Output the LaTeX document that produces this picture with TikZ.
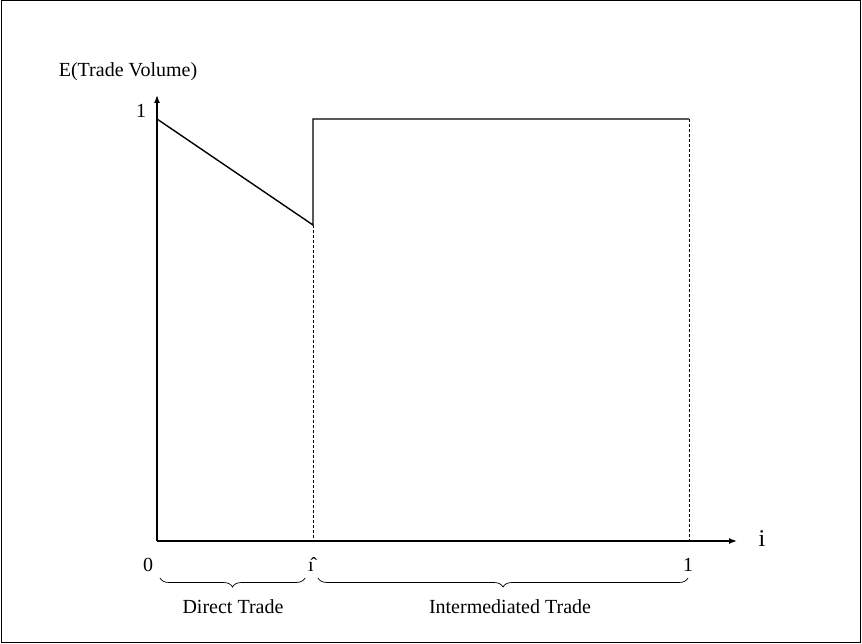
\documentclass[tikz,border=0pt]{standalone}
\usepackage{fontspec}
\setmainfont{Liberation Serif}
\usetikzlibrary{arrows.meta,decorations.pathreplacing}
\begin{document}
\begin{tikzpicture}[x=1pt,y=-1pt,
  lbl/.style={font=\fontsize{20}{24}\selectfont, inner sep=0pt},
  axis/.style={line width=1.4pt, -{Latex[length=8pt,width=6pt]}},
  graph/.style={line width=1.4pt},
  guide/.style={line width=0.9pt, dash pattern=on 3pt off 2pt},
  brc/.style={line width=0.7pt, decorate, decoration={brace, mirror, amplitude=9pt}}]
\useasboundingbox (0,0) rectangle (862,644);
\draw[line width=1pt] (1,1) rectangle (860,642);
\coordinate (O) at (157,541);
\coordinate (Ytip) at (157,95);
\coordinate (Xtip) at (737,541);
\coordinate (A) at (157,119);
\coordinate (B) at (313,225);
\coordinate (C) at (313,119);
\coordinate (D) at (689,119);
\coordinate (Bb) at (313,541);
\coordinate (Db) at (689,541);
\draw[axis] (O) -- (Ytip);
\draw[axis] (O) -- (Xtip);
\draw[graph] (A) -- (B) -- (C) -- (D);
\draw[guide] (B) -- (Bb);
\draw[guide] (D) -- (Db);
\node[lbl] (ylab) at (128,72) {E(Trade Volume)};
\node[lbl] (one) at (141,111) {1};
\node[lbl, font=\fontsize{24}{28}\selectfont] (ilab) at (762,539) {i};
\node[lbl] (zero) at (148,565) {0};
\node[lbl] (ihat) at (311,565) {\^{ı}};
\node[lbl] (oneb) at (688,565) {1};
\coordinate (b1l) at (160,578);
\coordinate (b1r) at (305,578);
\coordinate (b2l) at (318,578);
\coordinate (b2r) at (688,578);
\draw[brc] (b1l) -- (b1r);
\draw[brc] (b2l) -- (b2r);
\node[lbl] (dt) at (233,607) {Direct Trade};
\node[lbl] (it) at (510,607) {Intermediated Trade};
\end{tikzpicture}
\end{document}
